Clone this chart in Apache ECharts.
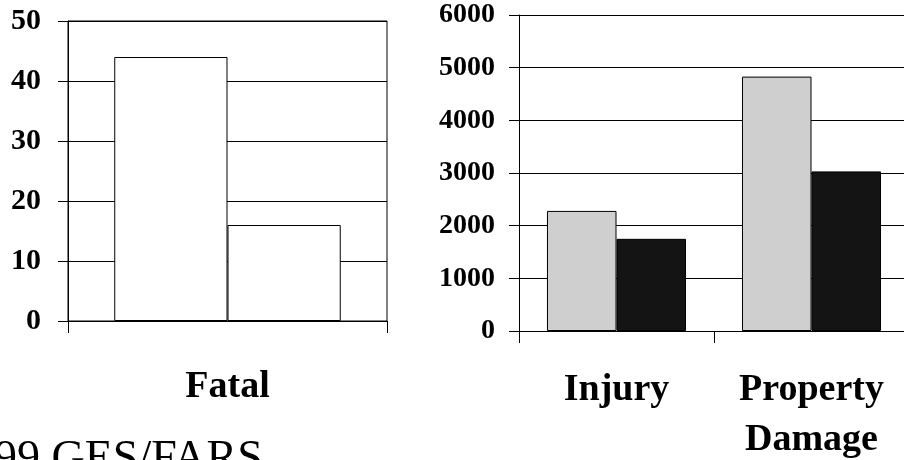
<!DOCTYPE html>
<html>
<head>
<meta charset="utf-8">
<script src="https://cdn.jsdelivr.net/npm/echarts@6/dist/echarts.min.js"></script>
<style>
  html, body { margin: 0; padding: 0; background: #fff; }
  #chart { width: 904px; height: 460px; }
</style>
</head>
<body>
<div id="chart"></div>
<script>
// left panel: fatal crashes
const fatalCats = ['Fatal'];
const fatalA = [44];
const fatalB = [16];
const fatalMin = 0, fatalMax = 50, fatalStep = 10;

// right panel: injury / property damage crashes
const otherCats = ['Injury', 'Property\nDamage'];
const otherA = [2280, 4830];
const otherB = [1750, 3030];
const otherMin = 0, otherMax = 6000, otherStep = 1000;

const sourceNote = '99 GES/FARS';

const serif = '"Liberation Serif", "Times New Roman", serif';

let myChart = echarts.init(document.getElementById('chart'));

function yAxisFor(idx, min, max, step, size, margin) {
  return {
    type: 'value',
    gridIndex: idx,
    min: min,
    max: max,
    interval: step,
    axisLine: { show: true, lineStyle: { color: '#000', width: 1 } },
    axisTick: { show: true, length: 10, lineStyle: { color: '#000' } },
    axisLabel: {
      color: '#000',
      fontFamily: serif,
      fontWeight: 'bold',
      fontSize: size,
      margin: margin,
      // no thousands separator in the original
      formatter: function (v) { return String(v); }
    },
    splitLine: { show: true, lineStyle: { color: '#000', width: 1 } }
  };
}

function xAxisFor(idx, cats, margin, lh) {
  return {
    type: 'category',
    gridIndex: idx,
    data: cats,
    boundaryGap: true,
    axisLine: { show: true, onZero: false, lineStyle: { color: '#000', width: 1 } },
    axisTick: { show: true, length: 12, lineStyle: { color: '#000' } },
    axisLabel: {
      interval: 0,
      color: '#000',
      fontFamily: serif,
      fontWeight: 'bold',
      fontSize: 38,
      lineHeight: lh,
      margin: margin
    }
  };
}

myChart.setOption({
  animation: false,
  backgroundColor: '#fff',
  title: {
    text: sourceNote,
    left: -6,
    top: 437,
    padding: 0,
    textStyle: { fontFamily: serif, fontWeight: 'normal', fontSize: 46, color: '#000' }
  },
  grid: [
    { left: 68, top: 21, width: 319, height: 300, outerBoundsMode: 'none', containLabel: false,
      show: true, borderColor: '#000', borderWidth: 1, backgroundColor: 'transparent' },
    // right plot runs off the page edge like the original
    { left: 519, top: 15, width: 390, height: 316, outerBoundsMode: 'none', containLabel: false }
  ],
  xAxis: [
    xAxisFor(0, fatalCats, 47, 38),
    xAxisFor(1, otherCats, 34, 50)
  ],
  yAxis: [
    yAxisFor(0, fatalMin, fatalMax, fatalStep, 30, 27),
    yAxisFor(1, otherMin, otherMax, otherStep, 28, 24)
  ],
  series: [
    {
      name: 'fatal a', type: 'bar', xAxisIndex: 0, yAxisIndex: 0,
      barGap: '0%', barCategoryGap: '29%',
      itemStyle: { color: '#fff', borderColor: '#000', borderWidth: 1 },
      data: fatalA
    },
    {
      name: 'fatal b', type: 'bar', xAxisIndex: 0, yAxisIndex: 0,
      barGap: '0%', barCategoryGap: '29%',
      itemStyle: { color: '#fff', borderColor: '#000', borderWidth: 1 },
      data: fatalB
    },
    {
      name: 'other a', type: 'bar', xAxisIndex: 1, yAxisIndex: 1,
      barGap: '0%', barCategoryGap: '28.7%',
      itemStyle: { color: '#cfcfcf', borderColor: '#000', borderWidth: 1 },
      data: otherA
    },
    {
      name: 'other b', type: 'bar', xAxisIndex: 1, yAxisIndex: 1,
      barGap: '0%', barCategoryGap: '28.7%',
      itemStyle: { color: '#141414', borderColor: '#000', borderWidth: 1 },
      data: otherB
    }
  ]
});

window.addEventListener('resize', function () {
  myChart.resize();
});
</script>
</body>
</html>
